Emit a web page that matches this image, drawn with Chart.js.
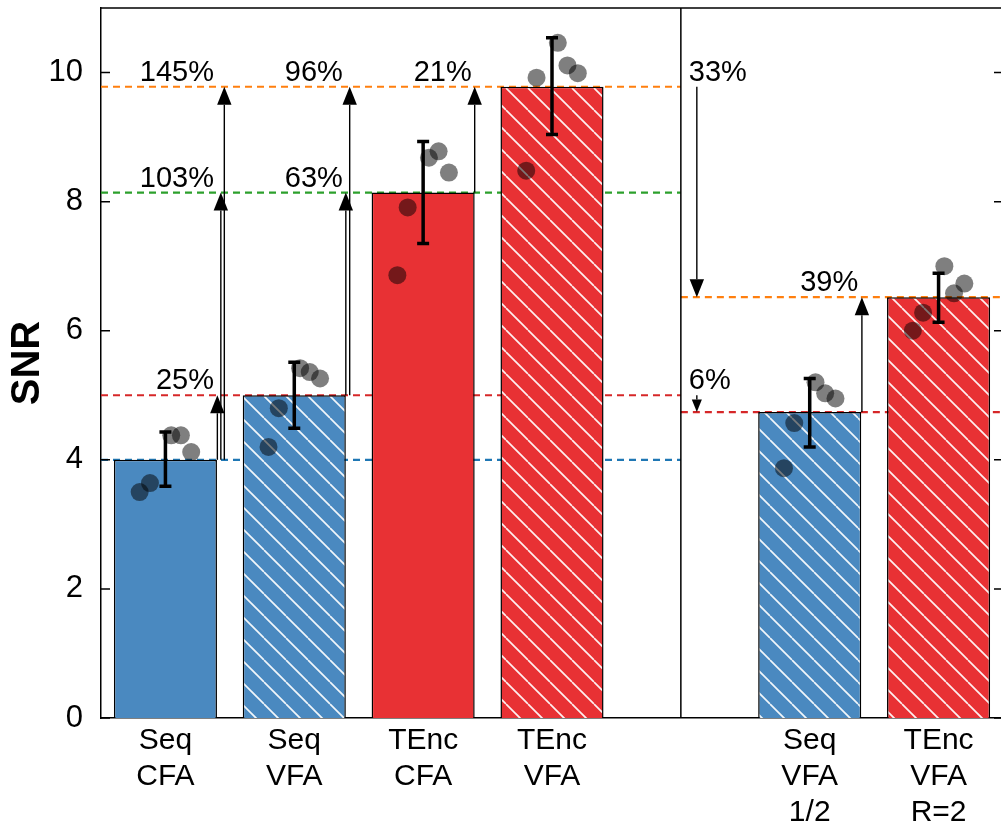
<!DOCTYPE html>
<html>
<head>
<meta charset="utf-8">
<script src="https://cdn.jsdelivr.net/npm/chart.js@4.4.0/dist/chart.umd.min.js"></script>
<style>
  html, body { margin: 0; padding: 0; background: #fff; overflow: hidden; }
  #wrap { width: 1010px; height: 832px; }
</style>
</head>
<body>
<div id="wrap"><canvas id="snrChart" width="1010" height="832"></canvas></div>
<script>
// ─── Data ─────────────────────────────────────────────────────
const categories   = [['Seq', 'CFA'], ['Seq', 'VFA'], ['TEnc', 'CFA'], ['TEnc', 'VFA'], '', ['Seq', 'VFA', '1/2'], ['TEnc', 'VFA', 'R=2']];
const barPositions = [0, 1, 2, 3, 5, 6];
const barMeans     = [4.0, 5.0, 8.14, 9.78, 4.74, 6.52];
const errLow       = [3.59, 4.49, 7.35, 9.04, 4.20, 6.13];
const errHigh      = [4.43, 5.51, 8.93, 10.54, 5.26, 6.89];
const runValues = [
  [3.50, 3.64, 4.38, 4.38, 4.12],
  [4.20, 4.80, 5.42, 5.36, 5.26],
  [6.86, 7.91, 8.68, 8.78, 8.45],
  [8.48, 9.92, 10.46, 10.11, 9.99],
  [3.87, 4.57, 5.20, 5.03, 4.95],
  [6.00, 6.28, 7.00, 6.58, 6.73],
];
const runJitter = [-0.2, -0.12, 0.045, 0.12, 0.2];
const yTicks    = [0, 2, 4, 6, 8, 10];

// reference levels (dashed), left panel and right panel
const refLeft  = [9.78, 8.14, 5.0, 4.0];
const refRight = [6.52, 4.74];

// relative gains (arrows): from level -> to level
const gainLabels = ['25%', '103%', '145%', '63%', '96%', '21%', '33%', '6%', '39%'];
const gainFrom   = [4.0, 4.0, 4.0, 5.0, 5.0, 8.14, 9.78, 5.0, 4.74];
const gainTo     = [5.0, 8.14, 9.78, 8.14, 9.78, 9.78, 6.52, 4.74, 6.52];

// ─── Styles / layout ──────────────────────────────────────────
const BLUE = '#4a89c0';
const RED  = '#e83134';
const FONT = "'Liberation Sans', Arial, Helvetica, sans-serif";
const barFill  = ['blue', 'blue', 'red', 'red', 'blue', 'red'];
const barHatch = [false, true, false, true, true, true];
const refLeftColors  = ['#ff7f0e', '#2ca02c', '#d62728', '#1f77b4'];
const refRightColors = ['#ff7f0e', '#d62728'];
const panelSplit = 4;
// arrow x (axis units) and anchor for its label
const gainX     = [0.403, 0.43, 0.457, 1.4, 1.43, 2.4, 4.124, 4.124, 5.405];
const gainLabX  = [0.4, 0.4, 0.4, 1.4, 1.4, 2.4, 4.0, 4.0, 5.4];
const gainAlign = ['right', 'right', 'right', 'right', 'right', 'right', 'left', 'left', 'right'];

const canvas = document.getElementById('snrChart');
const ctx = canvas.getContext('2d');

function hatch(color) {
  const s = 22;
  const tile = document.createElement('canvas');
  tile.width = s; tile.height = s;
  const t = tile.getContext('2d');
  t.fillStyle = color;
  t.fillRect(0, 0, s, s);
  t.strokeStyle = 'rgba(255,255,255,0.92)';
  t.lineWidth = 1.7;
  for (let k = -1; k <= 1; k++) {
    t.beginPath();
    t.moveTo(k * s, 0);
    t.lineTo(k * s + s, s);
    t.stroke();
  }
  return ctx.createPattern(tile, 'repeat');
}

const fills = barFill.map((c, i) => {
  const base = c === 'blue' ? BLUE : RED;
  return barHatch[i] ? hatch(base) : base;
});

const refDatasets = [];
refLeft.forEach((v, i) => refDatasets.push({
  type: 'line', data: [{ x: -0.5, y: v }, { x: panelSplit, y: v }],
  borderColor: refLeftColors[i], borderWidth: 2.2, borderDash: [7, 5],
  pointRadius: 0, order: 3,
}));
refRight.forEach((v, i) => refDatasets.push({
  type: 'line', data: [{ x: panelSplit, y: v }, { x: 6.5, y: v }],
  borderColor: refRightColors[i], borderWidth: 2.2, borderDash: [7, 5],
  pointRadius: 0, order: 3,
}));

const runPoints = [];
runValues.forEach((vals, i) => vals.forEach((v, j) => runPoints.push({ x: barPositions[i] + runJitter[j], y: v })));

function drawArrow(c, x, y0, y1) {
  const dir = Math.sign(y1 - y0);
  const len = Math.abs(y1 - y0);
  const hl = Math.min(18, len * 0.75);
  const hw = hl * 0.8;
  c.beginPath();
  c.moveTo(x, y0);
  c.lineTo(x, y1 - dir * hl);
  c.stroke();
  c.beginPath();
  c.moveTo(x, y1);
  c.lineTo(x - hw / 2, y1 - dir * hl);
  c.lineTo(x + hw / 2, y1 - dir * hl);
  c.closePath();
  c.fill();
}

const decorations = {
  id: 'decorations',
  afterDatasetsDraw(chart) {
    const c = chart.ctx;
    const xs = chart.scales.x, ys = chart.scales.y;
    const area = chart.chartArea;
    c.save();

    // error bars
    c.strokeStyle = '#000';
    c.lineWidth = 3.5;
    barPositions.forEach((p, i) => {
      const x = xs.getPixelForValue(p);
      const yt = ys.getPixelForValue(errHigh[i]);
      const yb = ys.getPixelForValue(errLow[i]);
      c.beginPath();
      c.moveTo(x, yt); c.lineTo(x, yb);
      c.moveTo(x - 6, yt); c.lineTo(x + 6, yt);
      c.moveTo(x - 6, yb); c.lineTo(x + 6, yb);
      c.stroke();
    });

    // gain arrows and labels
    c.lineWidth = 1.4;
    c.fillStyle = '#000';
    c.font = '29px ' + FONT;
    c.textBaseline = 'alphabetic';
    gainLabels.forEach((lab, i) => {
      const x = xs.getPixelForValue(gainX[i]);
      const y0 = ys.getPixelForValue(gainFrom[i]);
      const y1 = ys.getPixelForValue(gainTo[i]);
      drawArrow(c, x, y0, y1);
      const lx = xs.getPixelForValue(gainLabX[i]) + (gainAlign[i] === 'right' ? -3 : 8);
      c.textAlign = gainAlign[i];
      c.fillText(lab, lx, Math.min(y0, y1) - 6);
    });

    // frame: top, right, panel divider
    c.strokeStyle = '#000';
    c.lineWidth = 1.5;
    const xd = xs.getPixelForValue(panelSplit);
    c.beginPath();
    c.moveTo(area.left, area.top); c.lineTo(area.right, area.top);
    c.moveTo(area.right, area.top); c.lineTo(area.right, area.bottom);
    c.moveTo(xd, area.top); c.lineTo(xd, area.bottom);
    c.stroke();

    // inward ticks
    yTicks.forEach(v => {
      const y = ys.getPixelForValue(v);
      c.beginPath();
      c.moveTo(area.left, y); c.lineTo(area.left + 9, y);
      c.moveTo(area.right - 9, y); c.lineTo(area.right, y);
      c.stroke();
    });
    c.restore();
  },
};

new Chart(ctx, {
  type: 'bar',
  data: {
    datasets: [
      ...refDatasets,
      {
        type: 'bar',
        data: barPositions.map((p, i) => ({ x: p, y: barMeans[i] })),
        backgroundColor: fills,
        borderColor: '#000',
        borderWidth: 1.5,
        barPercentage: 0.8,
        categoryPercentage: 1.0,
        order: 2,
      },
      {
        type: 'scatter',
        data: runPoints,
        backgroundColor: 'rgba(0,0,0,0.5)',
        borderWidth: 0,
        pointRadius: 9,
        order: 1,
      },
    ],
  },
  options: {
    responsive: false,
    animation: false,
    events: [],
    layout: { autoPadding: false, padding: { top: 8, right: 7, left: 0, bottom: 0 } },
    plugins: { legend: { display: false }, tooltip: { enabled: false } },
    scales: {
      x: {
        type: 'linear',
        offset: false,
        min: -0.5, max: 6.5,
        grid: { display: false, offset: false },
        border: { display: true, color: '#000', width: 1.5 },
        afterBuildTicks: s => { s.ticks = barPositions.map(v => ({ value: v })); },
        afterFit: s => { s.height = 114; s.paddingLeft = 0; s.paddingRight = 0; },
        ticks: {
          color: '#000',
          padding: -3,
          maxRotation: 0,
          autoSkip: false,
          font: { family: FONT, size: 30, lineHeight: 1.2 },
          callback: v => categories[v],
        },
      },
      y: {
        min: 0, max: 11,
        grid: { display: false },
        border: { display: true, color: '#000', width: 1.5 },
        afterBuildTicks: s => { s.ticks = yTicks.map(v => ({ value: v })); },
        afterFit: s => { s.width = 101; s.paddingTop = 0; s.paddingBottom = 0; },
        ticks: { color: '#000', padding: 10, font: { family: FONT, size: 31 } },
        title: {
          display: true, text: 'SNR', color: '#000',
          padding: { top: 4, bottom: 0 },
          font: { family: FONT, size: 40, weight: 'bold' },
        },
      },
    },
  },
  plugins: [decorations],
});
</script>
</body>
</html>
